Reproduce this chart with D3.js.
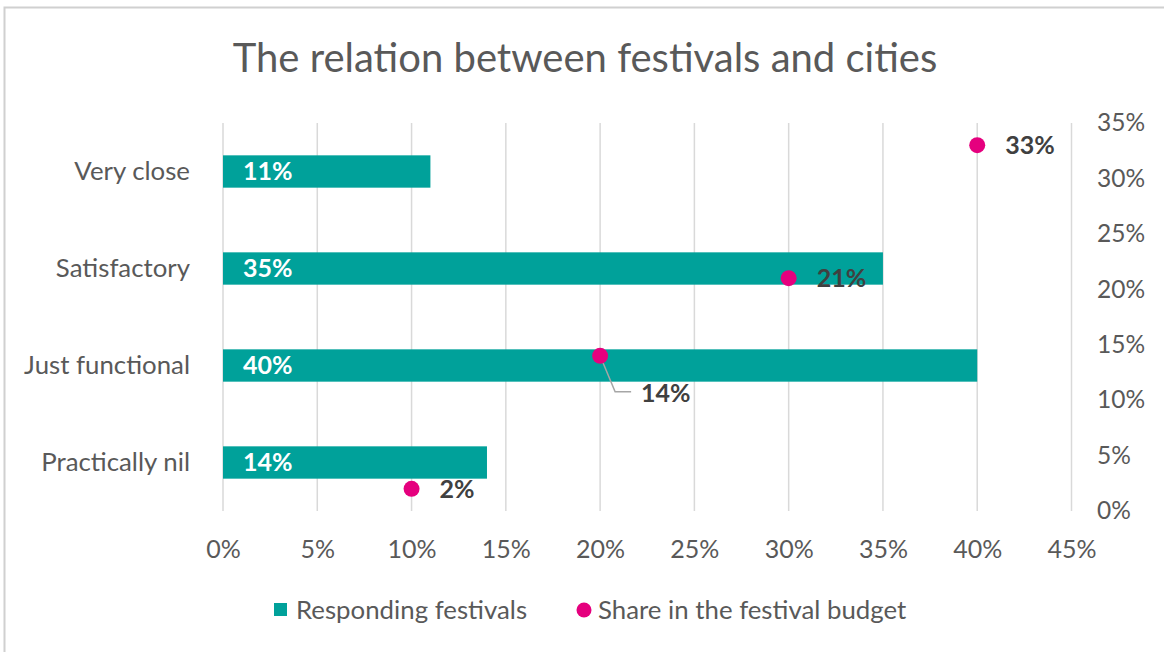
<!DOCTYPE html>
<html>
<head>
<meta charset="utf-8">
<script src="https://cdn.jsdelivr.net/npm/d3@7"></script>
<style>
  html, body { margin: 0; padding: 0; background: #ffffff; }
  svg { display: block; }
  text { font-family: Lato, "Open Sans", sans-serif; }
</style>
</head>
<body>
<svg id="chart" width="1164" height="652"></svg>
<script>
// Relation between festivals and their cities
const categories = ["Very close", "Satisfactory", "Just functional", "Practically nil"];
const respondingFestivals = [0.11, 0.35, 0.40, 0.14];   // bars, bottom axis
const budgetShare = [0.33, 0.21, 0.14, 0.02];           // points, right axis
const budgetX = [0.40, 0.30, 0.20, 0.10];               // point positions on bottom axis
const xTicks = [0, 0.05, 0.10, 0.15, 0.20, 0.25, 0.30, 0.35, 0.40, 0.45];
const y2Ticks = [0, 0.05, 0.10, 0.15, 0.20, 0.25, 0.30, 0.35];
const seriesNames = ["Responding festivals", "Share in the festival budget"];
const titleText = "The relation between festivals and cities";

const TEAL = "#00A19A";
const PINK = "#E5007E";
const AXIS_TEXT = "#595959";
const GRID = "#d9d9d9";

const svg = d3.select("#chart");
const W = 1164, H = 652;
const plot = { left: 223, right: 1071.5, top: 123, bottom: 511 };

// chart frame
svg.append("rect")
  .attr("x", 4.5).attr("y", 7.5)
  .attr("width", W + 20).attr("height", H + 20)
  .attr("fill", "#fff")
  .attr("stroke", "#d0d0d0").attr("stroke-width", 2);

// title
svg.append("text")
  .attr("x", 585).attr("y", 72)
  .attr("text-anchor", "middle")
  .attr("fill", AXIS_TEXT)
  .style("font-size", "40px")
  .text(titleText);

const x = d3.scaleLinear().domain([0, 0.45]).range([plot.left, plot.right]);
const y = d3.scaleBand().domain(categories)
  .range([plot.top, plot.bottom]).paddingInner(2 / 3).paddingOuter(1 / 3);
const y2 = d3.scaleLinear().domain([0, 0.35]).range([plot.bottom, plot.top]);
const pct = d3.format(".0%");

// vertical gridlines
svg.append("g").selectAll("line").data(xTicks).join("line")
  .attr("x1", d => x(d)).attr("x2", d => x(d))
  .attr("y1", plot.top).attr("y2", plot.bottom)
  .attr("stroke", GRID).attr("stroke-width", 1.5);

// bottom axis
const xAxis = svg.append("g")
  .attr("transform", `translate(0,${plot.bottom})`)
  .call(d3.axisBottom(x).tickValues(xTicks).tickFormat(pct).tickSize(0));
xAxis.select(".domain").remove();
xAxis.selectAll("text")
  .attr("y", 38).attr("dy", "0.35em")
  .attr("fill", AXIS_TEXT)
  .style("font-size", "25px").style("font-family", "Lato, sans-serif");

// right axis
const y2Axis = svg.append("g")
  .attr("transform", `translate(${plot.right},0)`)
  .call(d3.axisRight(y2).tickValues(y2Ticks).tickFormat(pct).tickSize(0).tickPadding(25.5));
y2Axis.select(".domain").remove();
y2Axis.selectAll("text")
  .attr("fill", AXIS_TEXT)
  .style("font-size", "24.5px").style("font-family", "Lato, sans-serif");

// category axis
const yAxis = svg.append("g")
  .attr("transform", `translate(${plot.left},0)`)
  .call(d3.axisLeft(y).tickSize(0).tickPadding(33));
yAxis.select(".domain").remove();
yAxis.selectAll("text")
  .attr("fill", AXIS_TEXT)
  .style("font-size", "25.8px").style("font-family", "Lato, sans-serif");

// bars
const rows = categories.map((c, i) => ({
  cat: c, value: respondingFestivals[i], share: budgetShare[i], sx: budgetX[i]
}));

svg.append("g").selectAll("rect").data(rows).join("rect")
  .attr("x", x(0)).attr("y", d => y(d.cat))
  .attr("width", d => x(d.value) - x(0))
  .attr("height", y.bandwidth())
  .attr("fill", TEAL);

svg.append("g").selectAll("text").data(rows).join("text")
  .attr("x", x(0) + 20)
  .attr("y", d => y(d.cat) + y.bandwidth() / 2)
  .attr("dy", "0.35em")
  .attr("fill", "#ffffff")
  .style("font-size", "25px").style("font-weight", "700")
  .text(d => pct(d.value));

// budget share points; the one sitting on a long bar gets a callout below it
const calloutCat = "Just functional";

const callout = rows.filter(d => d.cat === calloutCat);
svg.append("g").selectAll("path").data(callout).join("path")
  .attr("d", d => {
    const px = x(d.sx), py = y2(d.share);
    return `M${px},${py} L${px + 15},${py + 36} L${px + 31},${py + 36}`;
  })
  .attr("fill", "none").attr("stroke", "#a6a6a6").attr("stroke-width", 1.5);

svg.append("g").selectAll("circle").data(rows).join("circle")
  .attr("cx", d => x(d.sx)).attr("cy", d => y2(d.share))
  .attr("r", 8).attr("fill", PINK);

svg.append("g").selectAll("text").data(rows).join("text")
  .attr("x", d => x(d.sx) + (d.cat === calloutCat ? 41 : 28))
  .attr("y", d => y2(d.share) + (d.cat === calloutCat ? 37 : 0))
  .attr("dy", "0.35em")
  .attr("fill", "#404040")
  .style("font-size", "25px").style("font-weight", "700")
  .text(d => pct(d.share));

// legend
const legend = svg.append("g");
legend.append("rect")
  .attr("x", 274).attr("y", 603).attr("width", 13).attr("height", 13)
  .attr("fill", TEAL);
legend.append("text")
  .attr("x", 296).attr("y", 610).attr("dy", "0.35em")
  .attr("fill", AXIS_TEXT).style("font-size", "25.8px")
  .text(seriesNames[0]);
legend.append("circle")
  .attr("cx", 584).attr("cy", 610).attr("r", 7.5)
  .attr("fill", PINK);
legend.append("text")
  .attr("x", 598).attr("y", 610).attr("dy", "0.35em")
  .attr("fill", AXIS_TEXT).style("font-size", "25.8px")
  .text(seriesNames[1]);
</script>
</body>
</html>
